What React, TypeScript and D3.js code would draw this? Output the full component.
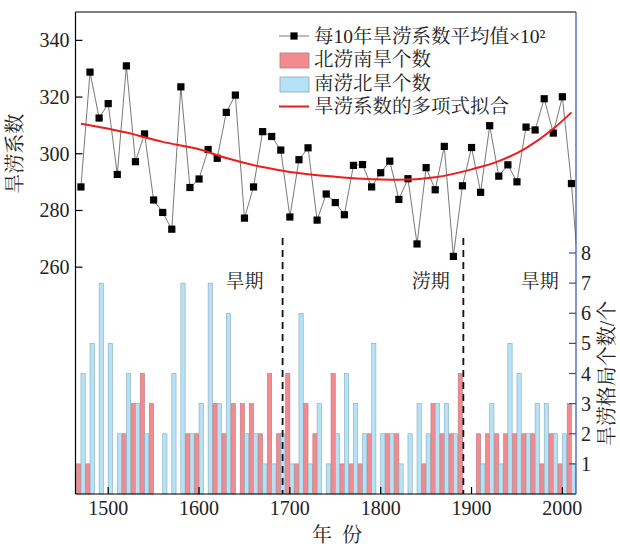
import React from "react";
import * as d3 from "d3";

const decades: number[] = [
  1470, 1480, 1490, 1500, 1510, 1520, 1530, 1540, 1550, 1560, 1570, 1580, 1590, 1600, 1610,
  1620, 1630, 1640, 1650, 1660, 1670, 1680, 1690, 1700, 1710, 1720, 1730, 1740, 1750, 1760,
  1770, 1780, 1790, 1800, 1810, 1820, 1830, 1840, 1850, 1860, 1870, 1880, 1890, 1900, 1910,
  1920, 1930, 1940, 1950, 1960, 1970, 1980, 1990, 2000, 2010, 2020,
];

// 每10年旱涝系数平均值×10²
const meanIndex: number[] = [
  288.3, 328.8, 312.6, 317.7, 292.7, 331.0, 297.2, 307.0, 283.7, 279.3, 273.4, 323.6, 288.1, 291.1, 301.5,
  298.4, 314.6, 320.7, 277.3, 288.3, 307.8, 306.1, 301.3, 277.7, 297.9, 302.1, 276.6, 285.8, 282.8, 278.5,
  295.9, 296.2, 288.3, 293.3, 297.4, 283.9, 291.2, 268.2, 295.1, 287.3, 302.6, 263.8, 288.7, 302.2, 286.4,
  309.9, 292.1, 296.1, 290.1, 309.4, 308.4, 319.4, 307.3, 320.1, 289.5, 249.0,
];

// 北涝南旱个数
const northFloodSouthDrought: number[] = [
  1, 1, 0, 0, 0, 2, 3, 4, 3, 0, 0, 0, 2, 2, 0,
  3, 2, 3, 3, 3, 2, 4, 2, 4, 1, 3, 2, 0, 4, 1,
  1, 1, 2, 0, 2, 2, 0, 0, 1, 3, 2, 2, 4, 0, 2,
  2, 2, 2, 2, 2, 2, 1, 2, 1, 3,
];

// 南涝北旱个数
const southFloodNorthDrought: number[] = [
  4, 5, 7, 5, 2, 4, 3, 2, 0, 2, 4, 7, 2, 3, 7,
  3, 6, 0, 2, 2, 1, 1, 2, 1, 6, 1, 3, 1, 2, 4,
  3, 2, 5, 2, 2, 1, 2, 3, 2, 3, 3, 2, 0, 0, 1,
  3, 1, 5, 4, 2, 3, 3, 2, 2, 1,
];

// 旱涝系数的多项式拟合
const fitYears: number[] = [1470, 1520, 1560, 1600, 1630, 1670, 1700, 1750, 1780, 1820, 1860, 1900, 1930, 1960, 1990, 2010];
const fitValues: number[] = [310.6, 307.5, 304.2, 301.6, 298.5, 295.3, 293.6, 291.9, 291.2, 290.8, 291.7, 294.5, 297.4, 302.0, 308.8, 314.6];

const xTicks: number[] = [1500, 1600, 1700, 1800, 1900, 2000];
const leftTicks: number[] = [260, 280, 300, 320, 340];
const rightTicks: number[] = [1, 2, 3, 4, 5, 6, 7, 8];
const periodBounds: number[] = [1692, 1891];
const periodLabels: { year: number; text: string }[] = [
  { year: 1650, text: "旱期" },
  { year: 1855, text: "涝期" },
  { year: 1975, text: "旱期" },
];
const legendItems: string[] = [
  "每10年旱涝系数平均值×10²",
  "北涝南旱个数",
  "南涝北旱个数",
  "旱涝系数的多项式拟合",
];

const W = 620;
const H = 546;
const L = 75.5;
const R = 576;
const T = 12;
const B = 494;

const FONT = "'Liberation Serif', 'Noto Serif CJK SC', 'Noto Sans CJK SC', serif";
const PINK = "#f48a90";
const PINK_STROKE = "#b47a7d";
const BLUE = "#b6e2f6";
const BLUE_STROKE = "#86aab9";
const AXIS_BLUE = "#2f4fb0";

export default function App() {
  const x = d3.scaleLinear().domain([1464, 2015]).range([L, R]);
  const yL = d3.scaleLinear().domain([180, 350]).range([B, T]);
  const yR = d3.scaleLinear().domain([0, 16]).range([B, T]);
  const bw = x(1504.7) - x(1500);

  const lineGen = d3
    .line<number>()
    .x((_, i) => x(decades[i]))
    .y((d) => yL(d));
  const fitGen = d3
    .line<number>()
    .x((_, i) => x(fitYears[i]))
    .y((d) => yL(d))
    .curve(d3.curveMonotoneX);

  const barYears = decades.slice(0, northFloodSouthDrought.length);

  return (
    <svg
      width={W}
      height={H}
      style={{ position: "absolute", left: 0, top: 0, background: "#fff" }}
      fontFamily={FONT}
    >
      <defs>
        <clipPath id="plotClip">
          <rect x={L} y={T} width={R - L} height={B - T} />
        </clipPath>
      </defs>
      <rect x={0} y={0} width={W} height={H} fill="#fff" />

      {/* bars */}
      <g>
        {barYears.map((yr, i) => (
          <g key={yr}>
            {northFloodSouthDrought[i] > 0 && (
              <rect
                x={x(yr) - bw}
                y={yR(northFloodSouthDrought[i])}
                width={bw}
                height={yR(0) - yR(northFloodSouthDrought[i])}
                fill={PINK}
                stroke={PINK_STROKE}
                strokeWidth={0.6}
              />
            )}
            {southFloodNorthDrought[i] > 0 && (
              <rect
                x={x(yr)}
                y={yR(southFloodNorthDrought[i])}
                width={bw}
                height={yR(0) - yR(southFloodNorthDrought[i])}
                fill={BLUE}
                stroke={BLUE_STROKE}
                strokeWidth={0.6}
              />
            )}
          </g>
        ))}
      </g>

      {/* period separators */}
      {periodBounds.map((yr) => (
        <line
          key={yr}
          x1={x(yr)}
          x2={x(yr)}
          y1={238}
          y2={B}
          stroke="#111"
          strokeWidth={1.8}
          strokeDasharray="7,5"
        />
      ))}
      {periodLabels.map((p, i) => (
        <text key={i} x={x(p.year)} y={288} fontSize={19} textAnchor="middle" fill="#222">
          {p.text}
        </text>
      ))}

      {/* mean index line */}
      <g clipPath="url(#plotClip)">
        <path d={lineGen(meanIndex) || ""} fill="none" stroke="#555" strokeWidth={0.8} />
        {meanIndex.map((v, i) =>
          decades[i] <= 2015 ? (
            <rect key={i} x={x(decades[i]) - 3.6} y={yL(v) - 3.6} width={7.2} height={7.2} fill="#000" />
          ) : null
        )}
        <path d={fitGen(fitValues) || ""} fill="none" stroke="#ee1c1c" strokeWidth={2} />
      </g>

      {/* frame */}
      <line x1={L} x2={R} y1={T} y2={T} stroke="#000" strokeWidth={1.2} />
      <line x1={L} x2={L} y1={T} y2={B} stroke="#000" strokeWidth={1.2} />
      <line x1={L} x2={R} y1={B} y2={B} stroke="#000" strokeWidth={1.2} />
      <line x1={R} x2={R} y1={T} y2={B} stroke={AXIS_BLUE} strokeWidth={1.2} />

      {/* left axis */}
      {leftTicks.map((t) => (
        <g key={t}>
          <line x1={L} x2={L + 7} y1={yL(t)} y2={yL(t)} stroke="#000" strokeWidth={1.2} />
          <text x={L - 6} y={yL(t)} dy="0.35em" textAnchor="end" fontSize={20} fill="#222">
            {t}
          </text>
        </g>
      ))}
      <text
        transform={`translate(22,${yL(300)}) rotate(-90)`}
        textAnchor="middle"
        fontSize={20}
        fill="#222"
      >
        旱涝系数
      </text>

      {/* right axis */}
      {rightTicks.map((t) => (
        <g key={t}>
          <line x1={R - 7} x2={R} y1={yR(t)} y2={yR(t)} stroke={AXIS_BLUE} strokeWidth={1.2} />
          <text x={R + 5} y={yR(t)} dy="0.35em" textAnchor="start" fontSize={20} fill="#222">
            {t}
          </text>
        </g>
      ))}
      <text
        transform={`translate(607,${yR(4)}) rotate(-90)`}
        textAnchor="middle"
        dy="0.35em"
        fontSize={20}
        fill="#222"
      >
        旱涝格局个数/个
      </text>

      {/* bottom axis */}
      {xTicks.map((t) => (
        <g key={t}>
          <line x1={x(t)} x2={x(t)} y1={B} y2={B - 7} stroke="#000" strokeWidth={1.2} />
          <text x={x(t)} y={B + 21} textAnchor="middle" fontSize={20} fill="#222">
            {t}
          </text>
        </g>
      ))}
      <text x={337} y={542} textAnchor="middle" fontSize={20} fill="#222" style={{ whiteSpace: "pre" }}>
        {"年  份"}
      </text>

      {/* legend */}
      <g>
        <line x1={279} x2={309} y1={36} y2={36} stroke="#555" strokeWidth={0.8} />
        <rect x={294 - 3.6} y={36 - 3.6} width={7.2} height={7.2} fill="#000" />
        <rect x={280} y={53} width={29} height={15} fill={PINK} stroke={PINK_STROKE} strokeWidth={0.8} />
        <rect x={280} y={77} width={29} height={15} fill={BLUE} stroke={BLUE_STROKE} strokeWidth={0.8} />
        <line x1={279} x2={309} y1={106.5} y2={106.5} stroke="#ee1c1c" strokeWidth={2} />
        {legendItems.map((txt, i) => (
          <text key={i} x={314} y={36 + i * 23.5} dy="0.35em" fontSize={19.5} fill="#222">
            {txt}
          </text>
        ))}
      </g>
    </svg>
  );
}
